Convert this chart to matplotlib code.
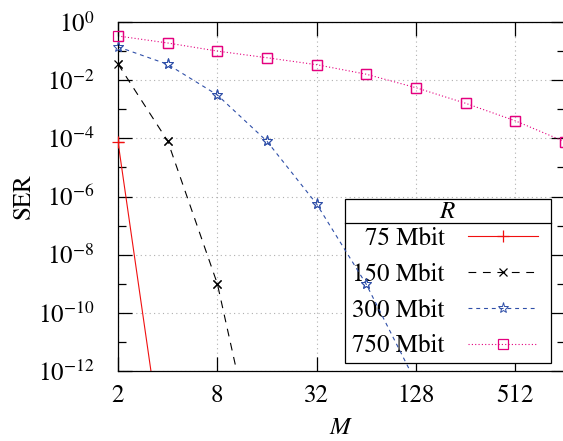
import numpy as np
import matplotlib
matplotlib.use("Agg")
import matplotlib.pyplot as plt
from matplotlib.lines import Line2D
from matplotlib.patches import Rectangle

plt.rcParams['font.family'] = ['STIXGeneral', 'DejaVu Serif']
plt.rcParams['mathtext.fontset'] = 'stix'

# ---- data ----
M_75 = [2, 4]
ser_75 = [7.6e-5, 1e-16]
M_150 = [2, 4, 8, 16]
ser_150 = [3.6e-2, 8.1e-5, 1.0e-9, 2e-17]
M_300 = [2, 4, 8, 16, 32, 64, 128]
ser_300 = [1.4e-1, 3.5e-2, 3.1e-3, 7.9e-5, 5.5e-7, 9.5e-10, 4e-13]
M_750 = [2, 4, 8, 16, 32, 64, 128, 256, 512, 1024]
ser_750 = [0.33, 0.19, 0.10, 0.059, 0.034, 0.016, 0.0055, 0.0016, 4e-4, 7.6e-5]

labels = ['75 Mbit', '150 Mbit', '300 Mbit', '750 Mbit']
legend_title = r'$R$'
xticks = [2, 8, 32, 128, 512]
xticklabels = ['2', '8', '32', '128', '512']
yticks = [1e-12, 1e-10, 1e-8, 1e-6, 1e-4, 1e-2, 1e0]
yticklabels = [r'$10^{-12}$', r'$10^{-10}$', r'$10^{-8}$', r'$10^{-6}$',
               r'$10^{-4}$', r'$10^{-2}$', r'$10^{0}$']
yminor = [1e-11, 1e-9, 1e-7, 1e-5, 1e-3, 1e-1]

W, H = 563, 441
AX_L, AX_T, AX_W, AX_H = 118, 22, 447, 349
fig = plt.figure(figsize=(W / 100, H / 100), dpi=100)
ax = fig.add_axes([AX_L / W, (H - AX_T - AX_H) / H, AX_W / W, AX_H / H])
ax.set_axisbelow(True)

ymin, ymax = 1e-12, 1.0

styles = [
    dict(color='#f01010', ls='-', marker='+', ms=9, mew=0.9),
    dict(color='black', ls=(0, (7, 6)), marker='x', ms=6, mew=0.9),
    dict(color='#2f4fa8', ls=(0, (3.5, 3.5)), marker='*', ms=8, mew=0.7, mfc='none'),
    dict(color='#e4007f', ls=(0, (1, 2)), marker='s', ms=7, mew=0.9, mfc='none'),
]
series = [(M_75, ser_75), (M_150, ser_150), (M_300, ser_300), (M_750, ser_750)]

for (mx, sy), st, lab in zip(series, styles, labels):
    mx = np.array(mx, float)
    sy = np.array(sy, float)
    ax.plot(mx, sy, lw=0.8, label=lab, zorder=2, **st)
    inside = (sy >= ymin) & (sy <= ymax)
    st2 = dict(st)
    st2['ls'] = 'none'
    ax.plot(mx[inside], sy[inside], clip_on=False, zorder=5, **st2)

ax.set_xscale('log', base=2)
ax.set_yscale('log')
ax.set_xlim(2, 1024)
ax.set_ylim(ymin, ymax)

ax.set_xticks(xticks)
ax.set_xticklabels(xticklabels)
ax.xaxis.set_minor_locator(matplotlib.ticker.NullLocator())
ax.set_yticks(yticks)
ax.set_yticklabels(yticklabels)
ax.set_yticks(yminor, minor=True)
ax.yaxis.set_minor_formatter(matplotlib.ticker.NullFormatter())

ax.tick_params(which='both', direction='in', top=True, right=True,
               width=0.9, labelsize=18)
ax.tick_params(which='major', length=10)
ax.tick_params(which='minor', length=5.5)
ax.tick_params(axis='y', pad=17)
ax.tick_params(axis='x', pad=9)

ax.grid(True, which='major', color='#b0b0b0', ls=(0, (1, 3)), lw=0.8)
for s in ax.spines.values():
    s.set_linewidth(0.9)
    s.set_zorder(4)

ax.set_xlabel(r'$M$', fontsize=18)
ax.xaxis.label.set_va('center')
ax.xaxis.set_label_coords(0.5, (AX_T + AX_H - 428) / AX_H)
ax.set_ylabel('SER', fontsize=18)
ax.yaxis.label.set_va('center')
ax.yaxis.set_label_coords((24 - AX_L) / AX_W, 0.5)

leg = ax.legend(loc='upper right',
                bbox_to_anchor=((538 - AX_L) / AX_W, 0.5),
                borderaxespad=0, markerfirst=False, numpoints=1, handlelength=2.8,
                handletextpad=0.92, labelspacing=0.47, borderpad=0.0,
                frameon=False, fontsize=18)
leg.set_zorder(1.5)

# place first entry so its centre lies at y=239 px (from top)
fig.canvas.draw()
t0 = leg.get_texts()[0].get_window_extent()
cy = (t0.y0 + t0.y1) / 2
target = H - 239
anchor_y = 0.5 + (target - cy) / AX_H
leg.set_bbox_to_anchor(((538 - AX_L) / AX_W, anchor_y), transform=ax.transAxes)
fig.canvas.draw()

texts = leg.get_texts()
t_first = texts[0].get_window_extent()
t_last = texts[-1].get_window_extent()
first_c = (t_first.y0 + t_first.y1) / 2
last_c = (t_last.y0 + t_last.y1) / 2
left = min(t.get_window_extent().x0 for t in texts)
bb = leg.get_window_extent()

x0 = (left - 8) / W
x1 = (bb.x1 + 13) / W
y1 = (first_c + 40) / H
y0 = (last_c - 17) / H
frame = Rectangle((x0, y0), x1 - x0, y1 - y0, transform=fig.transFigure,
                  facecolor='white', edgecolor='black', lw=0.9, zorder=1.4)
frame.set_clip_on(False)
ax.add_artist(frame)
ysep = (first_c + 40 - 23.7) / H
sep = Line2D([x0, x1], [ysep, ysep], transform=fig.transFigure,
             color='black', lw=0.9, zorder=1.45)
sep.set_clip_on(False)
ax.add_artist(sep)
fig.text((x0 + x1) / 2, (first_c + 40 - 12.7) / H, legend_title, fontsize=18,
         ha='center', va='center', zorder=1.6)

fig.savefig('out.png', dpi=100)
